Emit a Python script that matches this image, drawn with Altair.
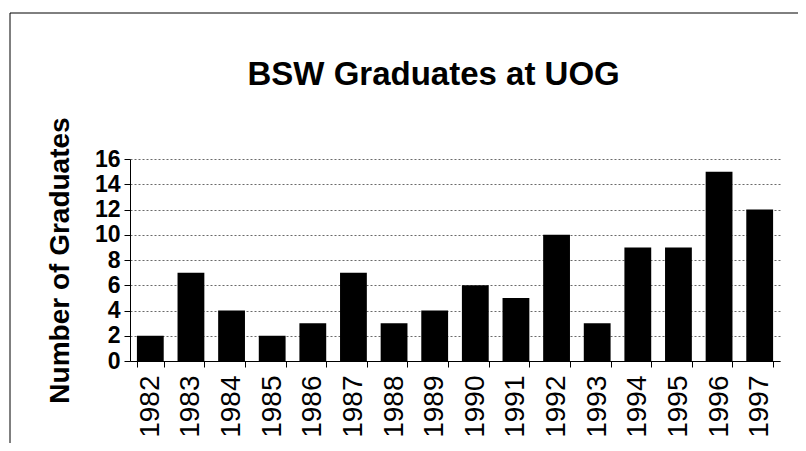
import altair as alt
import pandas as pd

years = ["1982", "1983", "1984", "1985", "1986", "1987", "1988", "1989",
         "1990", "1991", "1992", "1993", "1994", "1995", "1996", "1997"]
graduates = [2, 7, 4, 2, 3, 7, 3, 4, 6, 5, 10, 3, 9, 9, 15, 12]
y_ticks = [0, 2, 4, 6, 8, 10, 12, 14, 16]

df = pd.DataFrame({"year": years, "graduates": graduates})

bars = alt.Chart(df).mark_bar(color="black").encode(
    x=alt.X("year:N", sort=years,
            scale=alt.Scale(paddingInner=0.34, paddingOuter=0.17),
            axis=alt.Axis(title=None, labelAngle=270, labelAlign="right",
                          labelBaseline="middle",
                          labelFont="Liberation Sans Narrow, Liberation Sans",
                          labelFontSize=28, labelColor="black", labelPadding=8,
                          tickBand="extent", tickSize=6, tickColor="black",
                          domainColor="black", grid=False)),
    y=alt.Y("graduates:Q",
            scale=alt.Scale(domain=[0, 16], nice=False),
            axis=alt.Axis(title="Number of Graduates", values=y_ticks,
                          labelFont="Liberation Sans", labelFontSize=23,
                          labelFontWeight="bold", labelColor="black", labelPadding=4,
                          tickSize=6, tickColor="black", domainColor="black",
                          grid=True, gridColor="#444444", gridDash=[2, 2], gridWidth=0.8,
                          titleFont="Liberation Sans", titleFontSize=28,
                          titleFontWeight="bold", titleColor="black",
                          titleX=-70, titleY=101, titleAngle=270,
                          titleAlign="center", titleBaseline="middle")),
)

frame_df = pd.DataFrame({"k": [0]})
top_line = alt.Chart(frame_df).mark_rule(color="black", strokeWidth=1).encode(
    x=alt.value(-120), x2=alt.value(700), y=alt.value(-146))
left_line = alt.Chart(frame_df).mark_rule(color="black", strokeWidth=1).encode(
    x=alt.value(-120), y=alt.value(-146), y2=alt.value(300))

chart = alt.layer(bars, top_line, left_line).properties(
    width=650, height=202,
    autosize=alt.AutoSizeParams(type="none"),
    padding={"left": 122, "top": 151, "right": 18, "bottom": 82},
    title=alt.TitleParams("BSW Graduates at UOG", anchor="start", dx=238, dy=105,
                          font="Liberation Sans", fontSize=33, fontWeight="bold",
                          color="black", baseline="alphabetic", offset=0),
).configure_view(stroke=None)

chart.save("out.html", embed_options={"renderer": "svg", "actions": False})
